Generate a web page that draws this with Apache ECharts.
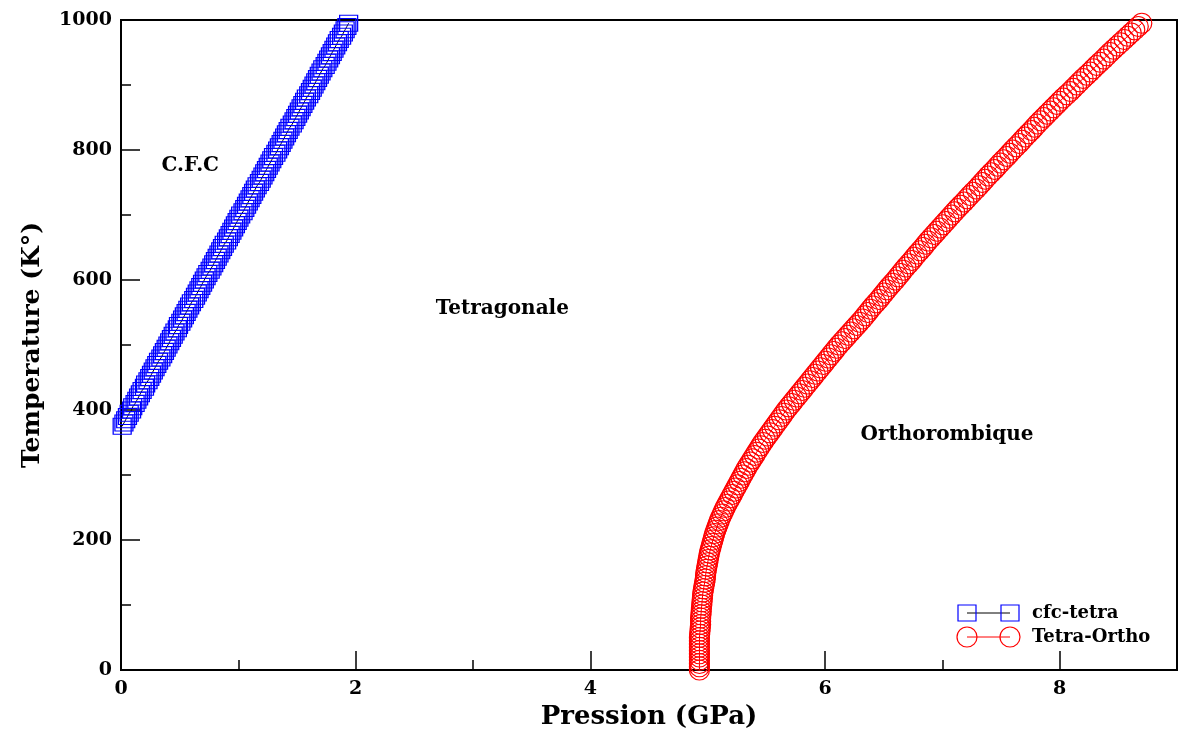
<!DOCTYPE html>
<html>
<head>
<meta charset="utf-8">
<script src="https://cdn.jsdelivr.net/npm/echarts@6/dist/echarts.min.js"></script>
<style>
html,body{margin:0;padding:0;background:#fff;}
#chart{width:1181px;height:735px;}
</style>
</head>
<body>
<div id="chart"></div>
<script>
// ---- data ----
var cfcTemp = [375,380,385,390,395,400,405,410,415,420,425,430,435,440,445,450,455,460,465,470,475,480,485,490,495,500,505,510,515,520,525,530,535,540,545,550,555,560,565,570,575,580,585,590,595,600,605,610,615,620,625,630,635,640,645,650,655,660,665,670,675,680,685,690,695,700,705,710,715,720,725,730,735,740,745,750,755,760,765,770,775,780,785,790,795,800,805,810,815,820,825,830,835,840,845,850,855,860,865,870,875,880,885,890,895,900,905,910,915,920,925,930,935,940,945,950,955,960,965,970,975,980,985,990,995];
var cfcPress = [0.01,0.025,0.04,0.055,0.07,0.09,0.10,0.12,0.135,0.15,0.165,0.18,0.20,0.21,0.23,0.245,0.26,0.275,0.29,0.305,0.32,0.34,0.355,0.37,0.385,0.40,0.415,0.43,0.445,0.46,0.48,0.49,0.51,0.525,0.54,0.555,0.57,0.585,0.60,0.62,0.635,0.65,0.665,0.68,0.695,0.71,0.725,0.74,0.76,0.775,0.79,0.805,0.82,0.835,0.85,0.865,0.88,0.90,0.915,0.93,0.945,0.96,0.975,0.99,1.005,1.02,1.04,1.055,1.07,1.085,1.10,1.115,1.13,1.145,1.16,1.18,1.195,1.21,1.225,1.24,1.255,1.27,1.285,1.30,1.32,1.335,1.35,1.365,1.38,1.395,1.41,1.425,1.44,1.46,1.475,1.49,1.505,1.52,1.535,1.55,1.565,1.58,1.60,1.615,1.63,1.645,1.66,1.675,1.69,1.705,1.72,1.74,1.755,1.77,1.785,1.80,1.815,1.83,1.845,1.86,1.88,1.895,1.91,1.925,1.94];

var orthoTemp = [0,5,10,15,20,25,30,35,40,45,50,55,60,65,70,75,80,85,90,95,100,105,110,115,120,125,130,135,140,145,150,155,160,165,170,175,180,185,190,195,200,205,210,215,220,225,230,235,240,245,250,255,260,265,270,275,280,285,290,295,300,305,310,315,320,325,330,335,340,345,350,355,360,365,370,375,380,385,390,395,400,405,410,415,420,425,430,435,440,445,450,455,460,465,470,475,480,485,490,495,500,505,510,515,520,525,530,535,540,545,550,555,560,565,570,575,580,585,590,595,600,605,610,615,620,625,630,635,640,645,650,655,660,665,670,675,680,685,690,695,700,705,710,715,720,725,730,735,740,745,750,755,760,765,770,775,780,785,790,795,800,805,810,815,820,825,830,835,840,845,850,855,860,865,870,875,880,885,890,895,900,905,910,915,920,925,930,935,940,945,950,955,960,965,970,975,980,985,990,995];
var orthoPress = [4.93,4.93,4.93,4.93,4.93,4.93,4.93,4.93,4.93,4.93,4.93,4.932,4.935,4.937,4.94,4.94,4.94,4.943,4.945,4.947,4.95,4.952,4.955,4.957,4.96,4.965,4.97,4.975,4.98,4.982,4.985,4.99,4.995,5.0,5.005,5.01,5.015,5.022,5.03,5.037,5.045,5.052,5.06,5.07,5.08,5.09,5.10,5.112,5.125,5.137,5.15,5.165,5.18,5.195,5.21,5.225,5.24,5.255,5.27,5.285,5.30,5.315,5.33,5.347,5.365,5.382,5.40,5.417,5.435,5.452,5.47,5.49,5.51,5.53,5.55,5.57,5.59,5.61,5.63,5.65,5.67,5.692,5.715,5.737,5.76,5.782,5.805,5.827,5.85,5.872,5.895,5.917,5.94,5.962,5.985,6.007,6.03,6.052,6.075,6.097,6.12,6.145,6.17,6.195,6.22,6.245,6.27,6.295,6.32,6.342,6.365,6.387,6.41,6.435,6.46,6.482,6.505,6.527,6.55,6.575,6.60,6.622,6.645,6.667,6.69,6.715,6.74,6.762,6.785,6.81,6.835,6.857,6.88,6.905,6.93,6.955,6.98,7.005,7.03,7.055,7.08,7.105,7.13,7.157,7.185,7.21,7.235,7.262,7.29,7.315,7.34,7.365,7.39,7.417,7.445,7.47,7.495,7.522,7.55,7.575,7.60,7.627,7.655,7.68,7.705,7.732,7.76,7.785,7.81,7.837,7.865,7.892,7.92,7.947,7.975,8.002,8.03,8.06,8.09,8.117,8.145,8.172,8.20,8.23,8.26,8.287,8.315,8.345,8.375,8.402,8.43,8.46,8.49,8.52,8.55,8.58,8.61,8.64,8.67,8.70];

var seriesNames = ['cfc-tetra', 'Tetra-Ortho'];
var xTitle = 'Pression (GPa)';
var yTitle = 'Temperature (K°)';
var phaseLabels = ['C.F.C', 'Tetragonale', 'Orthorombique'];
var phasePos = [[0.59, 775], [3.25, 555], [7.04, 362]];

function zip(xs, ys){ var out=[]; for (var i=0;i<xs.length;i++) out.push([xs[i], ys[i]]); return out; }

var FONT = 'DejaVu Serif';
var chart = echarts.init(document.getElementById('chart'), null, {renderer:'canvas'});

var option = {
  backgroundColor: '#fff',
  animation: false,
  grid: {left: 121, top: 20, right: 4, bottom: 65, show: true, borderColor: '#000', borderWidth: 2},
  xAxis: {
    type: 'value', min: 0, max: 9, interval: 2,
    name: xTitle, nameLocation: 'middle', nameGap: 31,
    nameTextStyle: {fontFamily: FONT, fontWeight: 'bold', fontSize: 26, color: '#000'},
    axisLine: {show: true, lineStyle: {color: '#000', width: 2}},
    axisTick: {show: true, inside: true, length: 19, lineStyle: {color: '#000', width: 1.5}},
    minorTick: {show: true, splitNumber: 2, length: 10, lineStyle: {color: '#000', width: 1.5}},
    splitLine: {show: false},
    axisLabel: {fontFamily: FONT, fontWeight: 'bold', fontSize: 19, color: '#000', margin: 10, showMaxLabel: false,
      formatter: function (v) { return String(v); }}
  },
  yAxis: {
    type: 'value', min: 0, max: 1000, interval: 200,
    name: yTitle, nameLocation: 'middle', nameGap: 76,
    nameTextStyle: {fontFamily: FONT, fontWeight: 'bold', fontSize: 25, color: '#000'},
    axisLine: {show: true, lineStyle: {color: '#000', width: 2}},
    axisTick: {show: true, inside: true, length: 19, lineStyle: {color: '#000', width: 1.5}},
    minorTick: {show: true, splitNumber: 2, length: 10, lineStyle: {color: '#000', width: 1.5}},
    splitLine: {show: false},
    axisLabel: {fontFamily: FONT, fontWeight: 'bold', fontSize: 19, color: '#000', margin: 9,
      formatter: function (v) { return String(v); }}
  },
  series: [
    {
      name: seriesNames[0], type: 'line', data: zip(cfcPress, cfcTemp),
      symbol: 'rect', symbolSize: [18, 16], showAllSymbol: true, clip: false,
      lineStyle: {color: '#000', width: 1},
      itemStyle: {color: 'rgba(0,0,0,0)', borderColor: '#0000ff', borderWidth: 1.2}
    },
    {
      name: seriesNames[1], type: 'line', data: zip(orthoPress, orthoTemp),
      symbol: 'circle', symbolSize: 20, showAllSymbol: true, clip: false,
      lineStyle: {color: '#ff0000', width: 1},
      itemStyle: {color: 'rgba(0,0,0,0)', borderColor: '#ff0000', borderWidth: 1.2}
    }
  ]
};
chart.setOption(option);

// annotations + legend
var g = [];
for (var i = 0; i < phaseLabels.length; i++) {
  var p = chart.convertToPixel({gridIndex: 0}, phasePos[i]);
  g.push({type: 'text', x: p[0], y: p[1], style: {text: phaseLabels[i], fontFamily: FONT, fontWeight: 'bold', fontSize: 20, fill: '#000', align: 'center', verticalAlign: 'middle'}});
}
var lx = 958, ly = 613, lgap = 24;
g.push({type: 'line', shape: {x1: lx + 9, y1: ly, x2: lx + 52, y2: ly}, style: {stroke: '#000', lineWidth: 1}});
g.push({type: 'rect', shape: {x: lx, y: ly - 8, width: 18, height: 16}, style: {fill: 'none', stroke: '#0000ff', lineWidth: 1.2}});
g.push({type: 'rect', shape: {x: lx + 43, y: ly - 8, width: 18, height: 16}, style: {fill: 'none', stroke: '#0000ff', lineWidth: 1.2}});
g.push({type: 'text', x: lx + 74, y: ly, style: {text: seriesNames[0], fontFamily: FONT, fontWeight: 'bold', fontSize: 18, fill: '#000', verticalAlign: 'middle'}});
g.push({type: 'line', shape: {x1: lx + 9, y1: ly + lgap, x2: lx + 52, y2: ly + lgap}, style: {stroke: '#ff0000', lineWidth: 1}});
g.push({type: 'circle', shape: {cx: lx + 9, cy: ly + lgap, r: 10}, style: {fill: 'none', stroke: '#ff0000', lineWidth: 1.2}});
g.push({type: 'circle', shape: {cx: lx + 52, cy: ly + lgap, r: 10}, style: {fill: 'none', stroke: '#ff0000', lineWidth: 1.2}});
g.push({type: 'text', x: lx + 74, y: ly + lgap, style: {text: seriesNames[1], fontFamily: FONT, fontWeight: 'bold', fontSize: 18, fill: '#000', verticalAlign: 'middle'}});
chart.setOption({graphic: g});
</script>
</body>
</html>
